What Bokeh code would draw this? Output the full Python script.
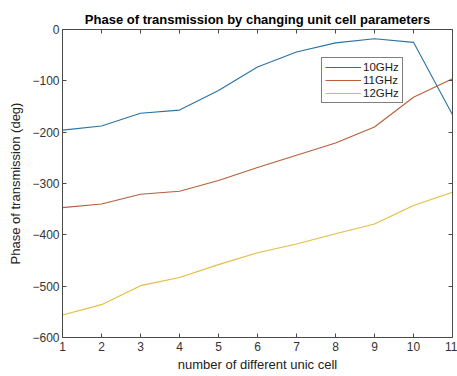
from bokeh.plotting import figure
from bokeh.models import (Range1d, LinearAxis, FixedTicker, Legend, LegendItem,
                          CustomLabelingPolicy)
from bokeh.embed import file_html
from bokeh.resources import INLINE

# unit cell index
cells = [1, 2, 3, 4, 5, 6, 7, 8, 9, 10, 11]

# transmission phase (deg) per frequency
phase_10ghz = [-196, -188, -163, -157, -119, -73, -44, -26, -18, -25, -166]
phase_11ghz = [-347, -340, -321, -315, -294, -269, -245, -221, -190, -132, -96]
phase_12ghz = [-556, -536, -499, -483, -458, -435, -418, -398, -379, -343, -317]

series_names = ["10GHz", "11GHz", "12GHz"]
series_colors = ["#2a72a3", "#b85f38", "#e2bd45"]

x_ticks = list(range(1, 12))
y_ticks = [0, -100, -200, -300, -400, -500, -600]

FONT = "Liberation Sans"
AXIS_COLOR = "#4a4a4a"

p = figure(frame_width=390, frame_height=308, output_backend="svg", toolbar_location=None,
           x_range=Range1d(1, 11), y_range=Range1d(-600, 0),
           min_border_left=62, min_border_right=5, min_border_top=29, min_border_bottom=39)
p.background_fill_color = "white"
p.border_fill_color = "white"
p.outline_line_color = None
p.grid.visible = False

p.title.text = "Phase of transmission by changing unit cell parameters"
p.title.text_font = FONT
p.title.text_font_size = "13px"
p.title.text_font_style = "bold"
p.title.align = "center"
p.title.text_color = "black"
p.title.offset = 0
p.title.standoff = 5

renderers = []
for ys, c in zip([phase_10ghz, phase_11ghz, phase_12ghz], series_colors):
    renderers.append(p.line(cells, ys, line_color=c, line_width=1.1))

bottom_axis = p.below[0]
left_axis = p.left[0]
top_axis = LinearAxis()
right_axis = LinearAxis()
p.add_layout(top_axis, "above")
p.add_layout(right_axis, "right")

for ax, ticks in [(bottom_axis, x_ticks), (top_axis, x_ticks),
                  (left_axis, y_ticks), (right_axis, y_ticks)]:
    ax.ticker = FixedTicker(ticks=ticks)
    ax.axis_line_color = AXIS_COLOR
    ax.major_tick_line_color = AXIS_COLOR
    ax.major_tick_in = 4
    ax.major_tick_out = 0
    ax.minor_tick_line_color = None
    ax.major_label_text_font = FONT
    ax.major_label_text_font_size = "12px"
    ax.major_label_text_color = "#333333"
    ax.axis_label_text_font = FONT
    ax.axis_label_text_font_size = "13px"
    ax.axis_label_text_font_style = "normal"
    ax.axis_label_text_color = "#222222"

# the box's top and right edges carry ticks but no labels
hide_all = CustomLabelingPolicy(code="""
for (const i of indices) { indices.unset(i) }
return indices
""")
for ax in (top_axis, right_axis):
    ax.major_label_text_font_size = "0px"
    ax.major_label_standoff = 0
    ax.major_label_policy = hide_all

bottom_axis.axis_label = "number of different unic cell"
bottom_axis.axis_label_standoff = 3
bottom_axis.major_label_standoff = 4
left_axis.axis_label = "Phase of transmission (deg)"
left_axis.axis_label_standoff = 6
left_axis.major_label_standoff = 3

legend = Legend(items=[LegendItem(label=n, renderers=[r]) for n, r in zip(series_names, renderers)],
                location=(259, 234))
legend.border_line_color = "black"
legend.border_line_width = 1
legend.background_fill_color = "white"
legend.background_fill_alpha = 1
legend.label_text_font = FONT
legend.label_text_font_size = "11.5px"
legend.label_text_color = "#222222"
legend.glyph_width = 36
legend.glyph_height = 12
legend.label_height = 12
legend.spacing = 1
legend.padding = 3
legend.margin = 0
legend.label_standoff = 2
p.add_layout(legend, "center")

open("out.html", "w").write(file_html(p, INLINE))
